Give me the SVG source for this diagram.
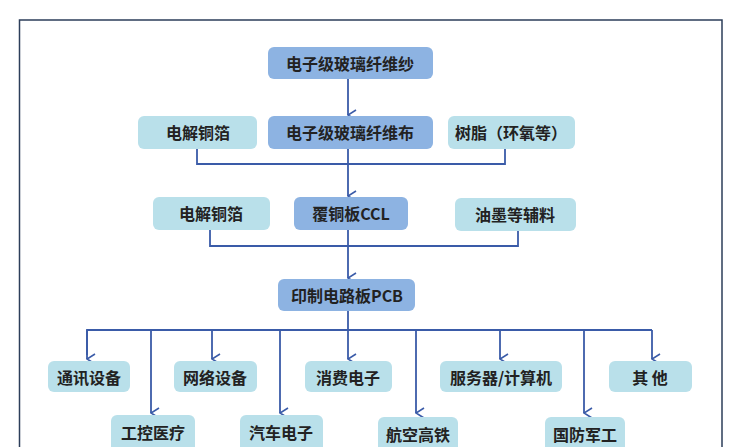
<svg xmlns="http://www.w3.org/2000/svg" width="737" height="447" viewBox="0 0 737 447">
<style>
.d{fill:#8db3e2;}
.l{fill:#b9e0ea;}
text{font-family:"Noto Sans CJK SC","Liberation Sans",sans-serif;font-size:16px;font-weight:bold;fill:#222;text-anchor:middle;dominant-baseline:central;}
.c{fill:none;stroke:#3a5ba8;stroke-width:1.8;}
</style>
<defs><marker id="a" viewBox="0 0 12 12" refX="6" refY="11" markerWidth="12" markerHeight="12" markerUnits="userSpaceOnUse" orient="auto"><path d="M1,3 L6,11 L11,3" fill="none" stroke="#3a5ba8" stroke-width="1.6"/></marker></defs>
<rect width="737" height="447" fill="#fff"/>
<path d="M19.5,460 V20 H722 V460" fill="none" stroke="#2c3e5a" stroke-width="1.5"/>
<g id="connectors" class="c">
<path d="M348,79 V115" marker-end="url(#a)" transform="translate(0,0)"/>
<path d="M197,149 V164 H505 V149 M348,149 V196" marker-end="url(#a)"/>
<path d="M210,230 V246 H518 V231 M348,230 V278" marker-end="url(#a)"/>
<path d="M348,311 V330 M87,355 V330 H652 V330"/>
<path d="M87,330 V359" marker-end="url(#a)"/>
<path d="M151,330 V413" marker-end="url(#a)"/>
<path d="M212,330 V359" marker-end="url(#a)"/>
<path d="M280,330 V413" marker-end="url(#a)"/>
<path d="M348,330 V359" marker-end="url(#a)"/>
<path d="M416,330 V413" marker-end="url(#a)"/>
<path d="M500,330 V359" marker-end="url(#a)"/>
<path d="M584,330 V413" marker-end="url(#a)"/>
<path d="M652,330 V359" marker-end="url(#a)"/>
</g>
<g id="n1"><rect class="d" x="268" y="47" width="165" height="32" rx="6"/><text x="350" y="63">电子级玻璃纤维纱</text></g>
<g id="n2"><rect class="d" x="268" y="116" width="165" height="33" rx="6"/><text x="350" y="132">电子级玻璃纤维布</text></g>
<g id="n3"><rect class="l" x="138" y="116" width="119" height="33" rx="6"/><text x="198" y="132">电解铜箔</text></g>
<g id="n4"><rect class="l" x="448" y="116" width="127" height="33" rx="6"/><text x="511" y="132">树脂（环氧等）</text></g>
<g id="n5"><rect class="d" x="294" y="197" width="114" height="33" rx="6"/><text x="351" y="213">覆铜板CCL</text></g>
<g id="n6"><rect class="l" x="153" y="197" width="117" height="33" rx="6"/><text x="211" y="213">电解铜箔</text></g>
<g id="n7"><rect class="l" x="455" y="198" width="121" height="33" rx="6"/><text x="515" y="214">油墨等辅料</text></g>
<g id="n8"><rect class="d" x="278" y="279" width="137" height="32" rx="6"/><text x="347" y="295">印制电路板PCB</text></g>
<g id="n9"><rect class="l" x="48" y="361" width="82" height="31" rx="6"/><text x="89" y="377">通讯设备</text></g>
<g id="n10"><rect class="l" x="174" y="361" width="83" height="31" rx="6"/><text x="215" y="377">网络设备</text></g>
<g id="n11"><rect class="l" x="305" y="361" width="87" height="31" rx="6"/><text x="348" y="377">消费电子</text></g>
<g id="n12"><rect class="l" x="440" y="361" width="122" height="31" rx="6"/><text x="501" y="377">服务器/计算机</text></g>
<g id="n13"><rect class="l" x="609" y="361" width="83" height="31" rx="6"/><text x="650" y="377">其 他</text></g>
<g id="n14"><rect class="l" x="111" y="415" width="84" height="40" rx="6"/><text x="153" y="432">工控医疗</text></g>
<g id="n15"><rect class="l" x="240" y="415" width="83" height="40" rx="6"/><text x="281" y="432">汽车电子</text></g>
<g id="n16"><rect class="l" x="378" y="417" width="80" height="40" rx="6"/><text x="418" y="434">航空高铁</text></g>
<g id="n17"><rect class="l" x="545" y="417" width="80" height="40" rx="6"/><text x="585" y="434">国防军工</text></g>
</svg>
